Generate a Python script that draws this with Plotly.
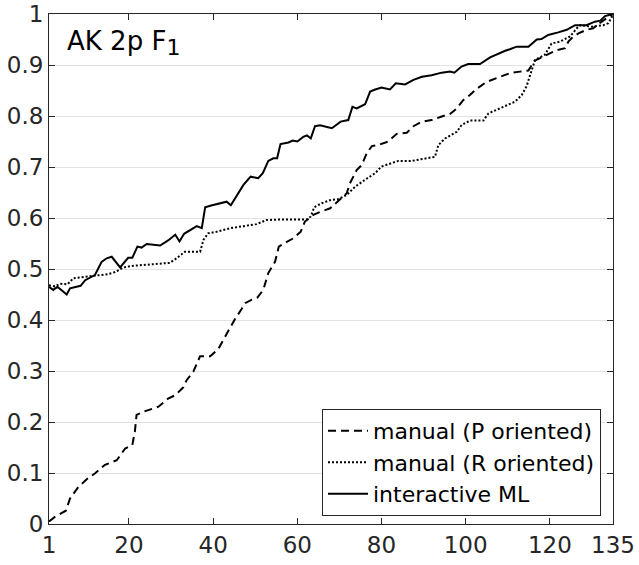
import plotly.graph_objects as go

# ---- data ----
ml_x = [1, 2, 3, 4.4, 5.2, 6, 7.6, 8.5, 9.6, 10.7,
        11.9, 12.7, 13.5, 14.7, 15.9, 17.9, 19.8, 20.8, 22, 23,
        24.2, 27.4, 29.3, 31, 32, 33.1, 35.3, 36.1, 37.3, 38.1,
        39.3, 40.8, 43.2, 44.2, 45.6, 47.2, 48.9, 50.7, 51.8, 53.1,
        54.3, 55.2, 56, 57.9, 58.9, 60, 61.4, 62.3, 63.2, 64.2,
        65.4, 68.2, 70.3, 72.1, 73.1, 74.1, 76.1, 77.3, 78.5, 80,
        82, 83.4, 85.6, 87.6, 89.6, 91.9, 94.3, 96.3, 97.3, 99,
        100.6, 103.4, 105.8, 107.2, 108.5, 109.4, 110.5, 112.1, 114.9, 116.9,
        118, 119.6, 122, 124, 126, 128.7, 130.7, 132, 133.1, 135]
ml_y = [0.465, 0.459, 0.465, 0.456, 0.450, 0.462, 0.465, 0.467, 0.478, 0.483,
        0.488, 0.501, 0.514, 0.521, 0.524, 0.503, 0.522, 0.522, 0.544, 0.542,
        0.549, 0.546, 0.556, 0.567, 0.554, 0.569, 0.581, 0.584, 0.580, 0.621,
        0.624, 0.627, 0.632, 0.625, 0.645, 0.665, 0.681, 0.678, 0.688, 0.712,
        0.717, 0.717, 0.745, 0.748, 0.752, 0.750, 0.759, 0.762, 0.756, 0.780,
        0.782, 0.776, 0.789, 0.792, 0.818, 0.815, 0.823, 0.848, 0.852, 0.856,
        0.852, 0.864, 0.862, 0.871, 0.877, 0.880, 0.885, 0.887, 0.885, 0.897,
        0.902, 0.902, 0.915, 0.920, 0.926, 0.928, 0.931, 0.936, 0.936, 0.950,
        0.951, 0.959, 0.964, 0.969, 0.978, 0.978, 0.985, 0.987, 0.996, 1.0]

r_x = [1, 2.4, 3.6, 5.4, 6.8, 8.8, 11.1, 13.1, 15.1, 16.7,
       18.7, 20.6, 23.8, 27, 29.7, 31.3, 32, 33.3, 35.3, 36.9,
       37.7, 38.8, 40.8, 44, 47.2, 50.3, 52.7, 55.9, 62.2, 63.2,
       64, 65.8, 67.8, 69.7, 71.7, 73.7, 76.1, 78.5, 80, 82,
       84, 87.2, 90.3, 92.7, 93.5, 95.1, 97.9, 99, 101, 104.2,
       105.4, 107.4, 109.8, 111.7, 113.3, 114.5, 115.3, 116.5, 118.8, 120.4,
       122.4, 124.8, 126.4, 127.2, 130, 132.7, 133.9, 134.7, 135]
r_y = [0.468, 0.466, 0.471, 0.470, 0.482, 0.484, 0.485, 0.487, 0.490, 0.494,
       0.503, 0.506, 0.508, 0.511, 0.512, 0.521, 0.525, 0.534, 0.534, 0.534,
       0.557, 0.570, 0.573, 0.580, 0.584, 0.588, 0.596, 0.597, 0.597, 0.603,
       0.621, 0.629, 0.635, 0.637, 0.645, 0.661, 0.675, 0.688, 0.701, 0.707,
       0.712, 0.712, 0.716, 0.720, 0.743, 0.756, 0.769, 0.782, 0.791, 0.791,
       0.805, 0.812, 0.821, 0.828, 0.841, 0.859, 0.880, 0.910, 0.920, 0.942,
       0.946, 0.956, 0.972, 0.978, 0.975, 0.978, 0.982, 0.994, 0.998]

p_x = [1, 2.4, 5, 6, 8, 10.3, 11.9, 14.3, 17.1, 19.1,
       20.8, 21.4, 21.8, 23.4, 27, 29.3, 31.1, 32.9, 33.7, 35.3,
       36.9, 39.3, 41.2, 43.4, 45.2, 46.8, 47.6, 49.2, 50.5, 51.9,
       53.1, 54.7, 55.6, 57.5, 59, 60.8, 61.8, 63.8, 65.4, 67.8,
       69.5, 71.7, 72.5, 74.1, 75.3, 76.5, 77.7, 79.2, 81.6, 83.6,
       86, 87.6, 89.6, 91.9, 94.3, 96.3, 97.9, 99.4, 101, 102.4,
       105, 108.5, 110.5, 112.9, 114.9, 116.3, 118.4, 120, 121.6, 123.6,
       124.4, 125.6, 126.8, 128.7, 130.3, 131.1, 132.3, 134.7, 135]
p_y = [0.005, 0.014, 0.026, 0.050, 0.073, 0.090, 0.099, 0.116, 0.125, 0.148,
       0.155, 0.181, 0.214, 0.220, 0.230, 0.246, 0.253, 0.268, 0.282, 0.299,
       0.329, 0.329, 0.343, 0.377, 0.402, 0.422, 0.433, 0.440, 0.444, 0.459,
       0.492, 0.514, 0.544, 0.553, 0.560, 0.573, 0.593, 0.606, 0.612, 0.619,
       0.631, 0.648, 0.668, 0.694, 0.704, 0.727, 0.741, 0.743, 0.750, 0.765,
       0.767, 0.780, 0.789, 0.792, 0.799, 0.804, 0.815, 0.831, 0.841, 0.852,
       0.867, 0.878, 0.884, 0.887, 0.889, 0.908, 0.916, 0.923, 0.929, 0.933,
       0.946, 0.956, 0.962, 0.969, 0.972, 0.978, 0.985, 0.998, 1.0]

series_names = ["manual (P oriented)", "manual (R oriented)", "interactive ML"]
x_ticks = [1, 20, 40, 60, 80, 100, 120, 135]
y_ticks = [0, 0.1, 0.2, 0.3, 0.4, 0.5, 0.6, 0.7, 0.8, 0.9, 1]
y_ticktext = ["0", "0.1", "0.2", "0.3", "0.4", "0.5", "0.6", "0.7", "0.8", "0.9", "1"]
panel_label = "AK 2p F<sub><span style='font-size:22px'>1</span></sub>"

FONT = "DejaVu Sans"
AX = "#262626"

fig = go.Figure()
fig.add_trace(go.Scatter(x=p_x, y=p_y, mode="lines", name=series_names[0],
                         line=dict(color="black", width=2, dash="8px,5px")))
fig.add_trace(go.Scatter(x=r_x, y=r_y, mode="lines", name=series_names[1],
                         line=dict(color="black", width=2, dash="2px,2px")))
fig.add_trace(go.Scatter(x=ml_x, y=ml_y, mode="lines", name=series_names[2],
                         line=dict(color="black", width=2)))

fig.update_layout(
    width=639, height=565,
    margin=dict(l=49, r=26, t=14, b=41),
    paper_bgcolor="white", plot_bgcolor="white",
    font=dict(family=FONT, size=23, color=AX),
    showlegend=True,
    legend=dict(x=0.9787, y=0.016, xanchor="right", yanchor="bottom",
                bgcolor="white", bordercolor=AX, borderwidth=1,
                font=dict(family=FONT, size=22, color="black"),
                tracegroupgap=0, itemwidth=40),
    annotations=[dict(text=panel_label, xref="paper", yref="paper",
                      x=0.028, y=0.98, xanchor="left", yanchor="top",
                      showarrow=False, font=dict(family=FONT, size=26, color="black"))],
)
fig.update_xaxes(range=[1, 135], tickvals=x_ticks, ticktext=[str(v) for v in x_ticks],
                 showgrid=False, zeroline=False, showline=True, linecolor=AX, linewidth=1,
                 mirror="ticks", ticks="inside", ticklen=6, tickcolor=AX, automargin=False,
                 tickfont=dict(family=FONT, size=23, color=AX))
fig.update_yaxes(range=[0, 1], tickvals=y_ticks, ticktext=y_ticktext,
                 showgrid=True, gridcolor="#e3e3e3", gridwidth=1, zeroline=False,
                 showline=True, linecolor=AX, linewidth=1, automargin=False,
                 mirror="ticks", ticks="inside", ticklen=6, tickcolor=AX,
                 tickfont=dict(family=FONT, size=23, color=AX))

fig.write_html("out.html", config=dict(displayModeBar=False),
               post_script="document.body.style.margin='0';")
